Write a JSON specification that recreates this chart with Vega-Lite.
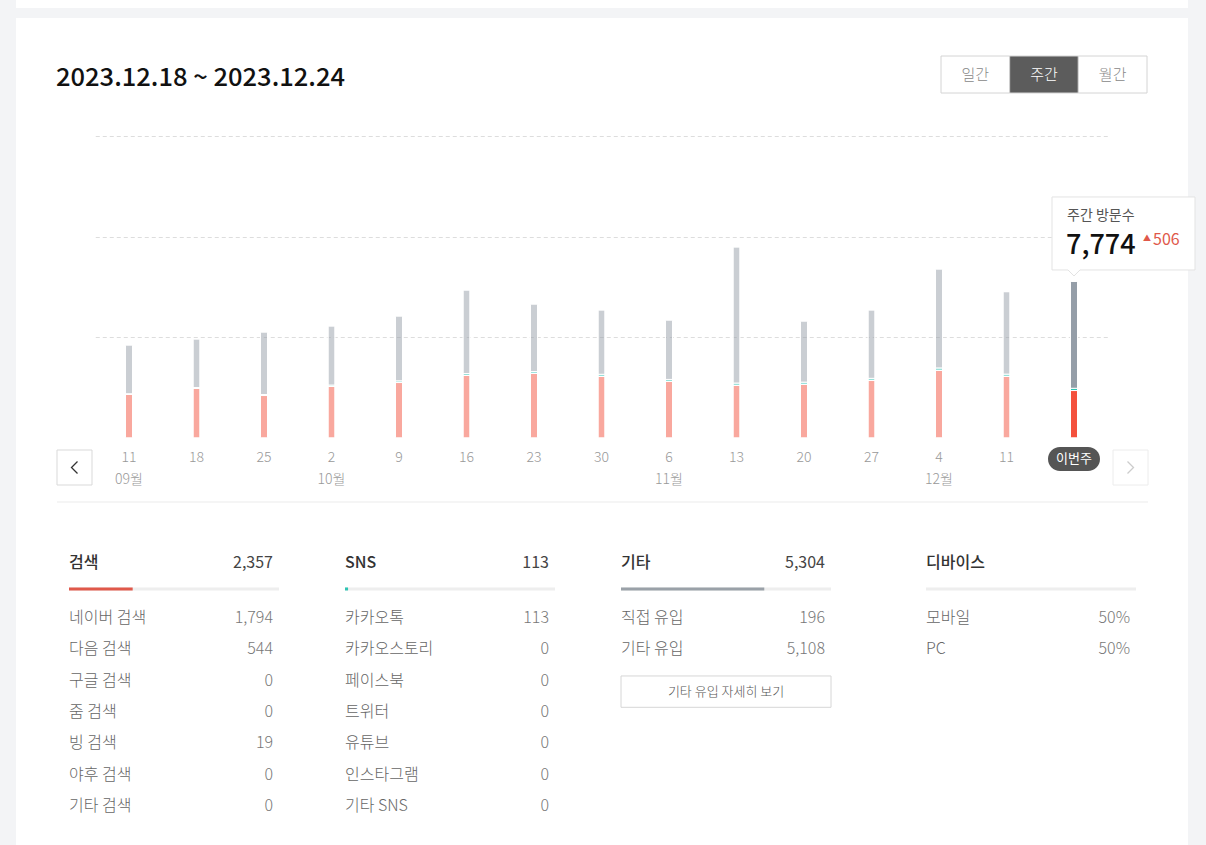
{
  "$schema": "https://vega.github.io/schema/vega-lite/v6.json",
  "width": 1172,
  "height": 827,
  "autosize": {"type": "none"},
  "padding": {"left": 16, "top": 18, "right": 18, "bottom": 0},
  "background": "#f3f4f6",
  "config": {
    "view": {"stroke": null, "fill": "#ffffff"},
    "font": "Noto Sans CJK KR",
    "text": {"font": "Noto Sans CJK KR"},
    "title": {"font": "Noto Sans CJK KR"}
  },
  "title": {
    "text": "2023.12.18 ~ 2023.12.24",
    "anchor": "start",
    "frame": "group",
    "orient": "top",
    "offset": -111,
    "baseline": "alphabetic",
    "dx": 40,
    "fontSize": 25.5,
    "fontWeight": 500,
    "color": "#111111"
  },
  "datasets": {
    "weeks": [
      {"date": "2023-09-11", "day": "11", "month": "09월", "search": 2160, "sns": 40, "other": 2420, "total": 4620, "current": false},
      {"date": "2023-09-18", "day": "18", "search": 2460, "sns": 45, "other": 2415, "total": 4920, "current": false},
      {"date": "2023-09-25", "day": "25", "search": 2110, "sns": 50, "other": 3105, "total": 5265, "current": false},
      {"date": "2023-10-02", "day": "2", "month": "10월", "search": 2560, "sns": 70, "other": 2935, "total": 5565, "current": false},
      {"date": "2023-10-09", "day": "9", "search": 2755, "sns": 85, "other": 3220, "total": 6060, "current": false},
      {"date": "2023-10-16", "day": "16", "search": 3105, "sns": 100, "other": 4145, "total": 7350, "current": false},
      {"date": "2023-10-23", "day": "23", "search": 3205, "sns": 95, "other": 3355, "total": 6655, "current": false},
      {"date": "2023-10-30", "day": "30", "search": 3055, "sns": 110, "other": 3195, "total": 6360, "current": false},
      {"date": "2023-11-06", "day": "6", "month": "11월", "search": 2805, "sns": 105, "other": 2950, "total": 5860, "current": false},
      {"date": "2023-11-13", "day": "13", "search": 2610, "sns": 120, "other": 6760, "total": 9490, "current": false},
      {"date": "2023-11-20", "day": "20", "search": 2660, "sns": 115, "other": 3035, "total": 5810, "current": false},
      {"date": "2023-11-27", "day": "27", "search": 2855, "sns": 110, "other": 3395, "total": 6360, "current": false},
      {"date": "2023-12-04", "day": "4", "month": "12월", "search": 3355, "sns": 125, "other": 4915, "total": 8395, "current": false},
      {"date": "2023-12-11", "day": "11", "search": 3055, "sns": 118, "other": 4095, "total": 7268, "current": false},
      {"date": "2023-12-18", "day": "18", "search": 2357, "sns": 113, "other": 5304, "total": 7774, "current": true, "change": 506}
    ],
    "sections": [
      {"group": "검색", "visits": 2357},
      {"group": "SNS", "visits": 113},
      {"group": "기타", "visits": 5304},
      {"group": "디바이스"}
    ],
    "items": [
      {"group": "검색", "item": "네이버 검색", "visits": 1794},
      {"group": "검색", "item": "다음 검색", "visits": 544},
      {"group": "검색", "item": "구글 검색", "visits": 0},
      {"group": "검색", "item": "줌 검색", "visits": 0},
      {"group": "검색", "item": "빙 검색", "visits": 19},
      {"group": "검색", "item": "야후 검색", "visits": 0},
      {"group": "검색", "item": "기타 검색", "visits": 0},
      {"group": "SNS", "item": "카카오톡", "visits": 113},
      {"group": "SNS", "item": "카카오스토리", "visits": 0},
      {"group": "SNS", "item": "페이스북", "visits": 0},
      {"group": "SNS", "item": "트위터", "visits": 0},
      {"group": "SNS", "item": "유튜브", "visits": 0},
      {"group": "SNS", "item": "인스타그램", "visits": 0},
      {"group": "SNS", "item": "기타 SNS", "visits": 0},
      {"group": "기타", "item": "직접 유입", "visits": 196},
      {"group": "기타", "item": "기타 유입", "visits": 5108}
    ],
    "devices": [
      {"device": "모바일", "share": 0.5},
      {"device": "PC", "share": 0.5}
    ],
    "nav": [{"dir": "prev"}, {"dir": "next"}],
    "tabs": [
      {"tab": "일간", "selected": false},
      {"tab": "주간", "selected": true},
      {"tab": "월간", "selected": false}
    ]
  },
  "resolve": {"scale": {"x": "independent", "y": "independent"}},
  "layer": [
    {
      "data": {"name": "nav"},
      "transform": [{"filter": "datum.dir === 'prev'"}],
      "mark": {"type": "rect", "fill": "#ffffff", "strokeWidth": 0},
      "encoding": {
        "x": {"datum": 0, "type": "quantitative", "scale": {"domain": [0, 1], "range": [0, 1172], "nice": false, "zero": false}, "axis": null},
        "x2": {"datum": 1},
        "y": {"datum": 0, "type": "quantitative", "scale": {"domain": [0, 1], "range": [-18, -10], "nice": false, "zero": false}, "axis": null},
        "y2": {"datum": 1}
      }
    },
    {
      "data": {"name": "nav"},
      "transform": [{"filter": "datum.dir === 'prev'"}],
      "mark": {"type": "point", "opacity": 0},
      "encoding": {
        "x": {"datum": 0, "type": "quantitative", "scale": {"domain": [0, 1], "range": [79.25, 1091.75], "nice": false, "zero": false}, "axis": null},
        "y": {"datum": 0, "type": "quantitative", "scale": {"domain": [0, 15000], "range": [420, 118], "nice": false, "zero": false}, "axis": {"values": [5000, 10000, 15000], "grid": true, "gridDash": [4, 3], "gridColor": "#dddddd", "gridWidth": 1, "domain": false, "ticks": false, "labels": false, "title": null}}
      }
    },
    {
      "data": {"name": "weeks"},
      "encoding": {
        "x": {"field": "date", "type": "nominal", "sort": null, "scale": {"type": "band", "domain": ["2023-09-11","2023-09-18","2023-09-25","2023-10-02","2023-10-09","2023-10-16","2023-10-23","2023-10-30","2023-11-06","2023-11-13","2023-11-20","2023-11-27","2023-12-04","2023-12-11","2023-12-18"], "range": [79.25, 1091.75], "paddingInner": 0, "paddingOuter": 0}, "axis": null}
      },
      "layer": [
        {
          "transform": [
            {"fold": ["search", "sns", "other"], "as": ["source", "visits"]},
            {"window": [{"op": "row_number", "as": "stackIdx"}], "groupby": ["date"]}
          ],
          "mark": {"type": "bar", "stroke": "#ffffff", "strokeWidth": 1, "cornerRadius": 1},
          "encoding": {
            "y": {"field": "visits", "type": "quantitative", "stack": "zero", "scale": {"domain": [0, 15000], "range": [420, 118], "nice": false, "zero": false}, "axis": null},
            "order": {"field": "stackIdx", "type": "quantitative", "sort": "ascending"},
            "color": {"field": "source", "type": "nominal", "scale": {"domain": ["search", "sns", "other"], "range": ["#f4513d", "#2ec4b3", "#959ea8"]}, "legend": null},
            "fillOpacity": {"condition": {"test": "datum.current", "value": 1}, "value": 0.5},
            "size": {"condition": {"test": "datum.current", "value": 9}, "value": 7}
          }
        },
        {
          "transform": [{"filter": "!datum.current"}],
          "mark": {"type": "text", "align": "center", "baseline": "middle", "dy": 20, "fontSize": 14, "fontWeight": 300, "color": "#999999"},
          "encoding": {
            "y": {"datum": 0, "type": "quantitative", "scale": {"domain": [0, 15000], "range": [420, 118], "nice": false, "zero": false}, "axis": null},
            "text": {"field": "day"}
          }
        },
        {
          "transform": [{"filter": "isValid(datum.month)"}],
          "mark": {"type": "text", "align": "center", "baseline": "middle", "dy": 42, "fontSize": 14, "fontWeight": 300, "color": "#999999"},
          "encoding": {
            "y": {"datum": 0, "type": "quantitative", "scale": {"domain": [0, 15000], "range": [420, 118], "nice": false, "zero": false}, "axis": null},
            "text": {"field": "month"}
          }
        },
        {
          "transform": [{"filter": "datum.current"}],
          "mark": {"type": "point", "shape": "M-0.5385,-0.4615H0.5385A0.4615,0.4615,0,0,1,0.5385,0.4615H-0.5385A0.4615,0.4615,0,0,1,-0.5385,-0.4615Z", "size": 2704, "filled": true, "color": "#555555", "opacity": 1, "yOffset": 21},
          "encoding": {
            "y": {"datum": 0, "type": "quantitative", "scale": {"domain": [0, 15000], "range": [420, 118], "nice": false, "zero": false}, "axis": null}
          }
        },
        {
          "transform": [{"filter": "datum.current"}],
          "mark": {"type": "text", "text": "이번주", "align": "center", "baseline": "middle", "dy": 21, "fontSize": 13, "color": "#ffffff"},
          "encoding": {
            "y": {"datum": 0, "type": "quantitative", "scale": {"domain": [0, 15000], "range": [420, 118], "nice": false, "zero": false}, "axis": null}
          }
        },
        {
          "transform": [{"filter": "datum.current"}],
          "mark": {"type": "point", "shape": "M-0.176,-0.676H0.968V-0.092H0.048L0,-0.044L-0.048,-0.092H-0.176Z", "size": 62500, "filled": true, "fill": "#ffffff", "stroke": "#e3e3e3", "strokeWidth": 1, "opacity": 1},
          "encoding": {
            "y": {"field": "total", "type": "quantitative", "scale": {"domain": [0, 15000], "range": [420, 118], "nice": false, "zero": false}, "axis": null}
          }
        },
        {
          "transform": [{"filter": "datum.current"}],
          "mark": {"type": "text", "text": "주간 방문수", "align": "left", "baseline": "middle", "dx": -7, "dy": -65.5, "fontSize": 14, "color": "#555555"},
          "encoding": {
            "y": {"field": "total", "type": "quantitative", "scale": {"domain": [0, 15000], "range": [420, 118], "nice": false, "zero": false}, "axis": null}
          }
        },
        {
          "transform": [{"filter": "datum.current"}],
          "mark": {"type": "text", "align": "left", "baseline": "alphabetic", "dx": -8, "dy": -27.5, "fontSize": 27, "fontWeight": 500, "color": "#111111"},
          "encoding": {
            "y": {"field": "total", "type": "quantitative", "scale": {"domain": [0, 15000], "range": [420, 118], "nice": false, "zero": false}, "axis": null},
            "text": {"field": "total", "type": "quantitative", "format": ","}
          }
        },
        {
          "transform": [{"filter": "datum.current"}],
          "mark": {"type": "text", "text": "▲", "align": "left", "baseline": "middle", "dx": 69, "dy": -42, "fontSize": 8, "color": "#e0584a"},
          "encoding": {
            "y": {"field": "total", "type": "quantitative", "scale": {"domain": [0, 15000], "range": [420, 118], "nice": false, "zero": false}, "axis": null}
          }
        },
        {
          "transform": [{"filter": "datum.current"}],
          "mark": {"type": "text", "align": "left", "baseline": "alphabetic", "dx": 79, "dy": -36.5, "fontSize": 16, "color": "#e0584a"},
          "encoding": {
            "y": {"field": "total", "type": "quantitative", "scale": {"domain": [0, 15000], "range": [420, 118], "nice": false, "zero": false}, "axis": null},
            "text": {"field": "change", "type": "quantitative"}
          }
        }
      ]
    },
    {
      "data": {"name": "nav"},
      "encoding": {
        "x": {"field": "dir", "type": "nominal", "sort": null, "scale": {"type": "point", "domain": ["prev", "next"], "range": [41, 1132], "padding": 0}, "axis": null},
        "y": {"datum": 0, "type": "quantitative", "scale": {"domain": [0, 1], "range": [449.5, 500], "nice": false, "zero": false}, "axis": null}
      },
      "layer": [
        {"mark": {"type": "line", "color": "#ebebeb", "strokeWidth": 1, "yOffset": 34.5}, "encoding": {}},
        {"transform": [{"filter": "datum.dir === 'prev'"}], "mark": {"type": "point", "shape": "square", "size": 1225, "filled": true, "fill": "#ffffff", "stroke": "#d9d9d9", "strokeWidth": 1, "opacity": 1, "xOffset": 17.5}, "encoding": {}},
        {"transform": [{"filter": "datum.dir === 'next'"}], "mark": {"type": "point", "shape": "square", "size": 1225, "filled": true, "fill": "#ffffff", "stroke": "#ececec", "strokeWidth": 1, "opacity": 1, "xOffset": -17.5}, "encoding": {}},
        {"transform": [{"filter": "datum.dir === 'prev'"}], "mark": {"type": "point", "shape": "M0.3,-0.6L-0.3,0L0.3,0.6", "size": 400, "filled": false, "stroke": "#333333", "strokeWidth": 1.3, "opacity": 1, "xOffset": 17.5}, "encoding": {}},
        {"transform": [{"filter": "datum.dir === 'next'"}], "mark": {"type": "point", "shape": "M-0.3,-0.6L0.3,0L-0.3,0.6", "size": 400, "filled": false, "stroke": "#cccccc", "strokeWidth": 1.3, "opacity": 1, "xOffset": -17.5}, "encoding": {}}
      ]
    },
    {
      "data": {"name": "tabs"},
      "encoding": {
        "x": {"field": "tab", "type": "nominal", "sort": null, "scale": {"type": "band", "domain": ["일간", "주간", "월간"], "range": [925, 1131], "paddingInner": 0, "paddingOuter": 0}, "axis": null}
      },
      "layer": [
        {
          "mark": {"type": "rect", "stroke": "#d4d4d4", "strokeWidth": 1},
          "encoding": {
            "y": {"datum": 0, "type": "quantitative", "scale": {"domain": [0, 1], "range": [38, 75], "nice": false, "zero": false}, "axis": null},
            "y2": {"datum": 1},
            "fill": {"condition": {"test": "datum.selected", "value": "#5c5c5c"}, "value": "#ffffff"}
          }
        },
        {
          "mark": {"type": "text", "align": "center", "baseline": "middle", "fontSize": 15, "fontWeight": 300},
          "encoding": {
            "y": {"datum": 0.5, "type": "quantitative", "scale": {"domain": [0, 1], "range": [38, 75], "nice": false, "zero": false}, "axis": null},
            "text": {"field": "tab"},
            "color": {"condition": {"test": "datum.selected", "value": "#ffffff"}, "value": "#888888"}
          }
        }
      ]
    },
    {
      "layer": [
        {
          "data": {"name": "sections"},
          "transform": [{"filter": "datum.group === '검색'"}],
          "encoding": {"y": {"datum": 0, "type": "quantitative", "scale": {"domain": [1, 7], "range": [600, 788], "nice": false, "zero": false}, "axis": null}},
          "layer": [
            {"mark": {"type": "text", "align": "left", "baseline": "middle", "dy": -24, "fontSize": 16, "fontWeight": 500, "color": "#333333"}, "encoding": {"x": {"datum": 0, "type": "quantitative", "scale": {"domain": [0, 7774], "range": [53, 263], "nice": false, "zero": false}, "axis": null}, "text": {"field": "group"}}},
            {"mark": {"type": "text", "align": "right", "baseline": "middle", "dx": 204, "dy": -24, "fontSize": 16, "color": "#444444"}, "encoding": {"x": {"datum": 0, "type": "quantitative", "scale": {"domain": [0, 7774], "range": [53, 263], "nice": false, "zero": false}, "axis": null}, "text": {"field": "visits", "type": "quantitative", "format": ","}}},
            {"mark": {"type": "rule", "color": "#eeeeee", "strokeWidth": 3, "yOffset": 2.3}, "encoding": {"x": {"datum": 0, "type": "quantitative", "scale": {"domain": [0, 7774], "range": [53, 263], "nice": false, "zero": false}, "axis": null}, "x2": {"datum": 7774}}},
            {"mark": {"type": "rule", "color": "#e0584a", "strokeWidth": 3, "yOffset": 2.3}, "encoding": {"x": {"field": "visits", "type": "quantitative", "stack": null, "scale": {"domain": [0, 7774], "range": [53, 263], "nice": false, "zero": false}, "axis": null}, "x2": {"datum": 0}}}
          ]
        },
        {
          "data": {"name": "items"},
          "transform": [{"filter": "datum.group === '검색'"}, {"window": [{"op": "row_number", "as": "rank"}]}],
          "encoding": {
            "x": {"datum": 0, "type": "quantitative", "scale": {"domain": [0, 7774], "range": [53, 263], "nice": false, "zero": false}, "axis": null},
            "y": {"field": "rank", "type": "quantitative", "scale": {"domain": [1, 7], "range": [600, 788], "nice": false, "zero": false}, "axis": null}
          },
          "layer": [
            {"mark": {"type": "text", "align": "left", "baseline": "middle", "fontSize": 16, "fontWeight": 300, "color": "#666666"}, "encoding": {"text": {"field": "item"}}},
            {"mark": {"type": "text", "align": "right", "baseline": "middle", "dx": 204, "fontSize": 16, "fontWeight": 300, "color": "#777777"}, "encoding": {"text": {"field": "visits", "type": "quantitative", "format": ","}}}
          ]
        }
      ]
    },
    {
      "layer": [
        {
          "data": {"name": "sections"},
          "transform": [{"filter": "datum.group === 'SNS'"}],
          "encoding": {"y": {"datum": 0, "type": "quantitative", "scale": {"domain": [1, 7], "range": [600, 788], "nice": false, "zero": false}, "axis": null}},
          "layer": [
            {"mark": {"type": "text", "align": "left", "baseline": "middle", "dy": -24, "fontSize": 16, "fontWeight": 500, "color": "#333333"}, "encoding": {"x": {"datum": 0, "type": "quantitative", "scale": {"domain": [0, 7774], "range": [329, 539], "nice": false, "zero": false}, "axis": null}, "text": {"field": "group"}}},
            {"mark": {"type": "text", "align": "right", "baseline": "middle", "dx": 204, "dy": -24, "fontSize": 16, "color": "#444444"}, "encoding": {"x": {"datum": 0, "type": "quantitative", "scale": {"domain": [0, 7774], "range": [329, 539], "nice": false, "zero": false}, "axis": null}, "text": {"field": "visits", "type": "quantitative", "format": ","}}},
            {"mark": {"type": "rule", "color": "#eeeeee", "strokeWidth": 3, "yOffset": 2.3}, "encoding": {"x": {"datum": 0, "type": "quantitative", "scale": {"domain": [0, 7774], "range": [329, 539], "nice": false, "zero": false}, "axis": null}, "x2": {"datum": 7774}}},
            {"mark": {"type": "rule", "color": "#2ec4b3", "strokeWidth": 3, "yOffset": 2.3}, "encoding": {"x": {"field": "visits", "type": "quantitative", "stack": null, "scale": {"domain": [0, 7774], "range": [329, 539], "nice": false, "zero": false}, "axis": null}, "x2": {"datum": 0}}}
          ]
        },
        {
          "data": {"name": "items"},
          "transform": [{"filter": "datum.group === 'SNS'"}, {"window": [{"op": "row_number", "as": "rank"}]}],
          "encoding": {
            "x": {"datum": 0, "type": "quantitative", "scale": {"domain": [0, 7774], "range": [329, 539], "nice": false, "zero": false}, "axis": null},
            "y": {"field": "rank", "type": "quantitative", "scale": {"domain": [1, 7], "range": [600, 788], "nice": false, "zero": false}, "axis": null}
          },
          "layer": [
            {"mark": {"type": "text", "align": "left", "baseline": "middle", "fontSize": 16, "fontWeight": 300, "color": "#666666"}, "encoding": {"text": {"field": "item"}}},
            {"mark": {"type": "text", "align": "right", "baseline": "middle", "dx": 204, "fontSize": 16, "fontWeight": 300, "color": "#777777"}, "encoding": {"text": {"field": "visits", "type": "quantitative", "format": ","}}}
          ]
        }
      ]
    },
    {
      "layer": [
        {
          "data": {"name": "sections"},
          "transform": [{"filter": "datum.group === '기타'"}],
          "encoding": {"y": {"datum": 0, "type": "quantitative", "scale": {"domain": [1, 7], "range": [600, 788], "nice": false, "zero": false}, "axis": null}},
          "layer": [
            {"mark": {"type": "text", "align": "left", "baseline": "middle", "dy": -24, "fontSize": 16, "fontWeight": 500, "color": "#333333"}, "encoding": {"x": {"datum": 0, "type": "quantitative", "scale": {"domain": [0, 7774], "range": [605, 815], "nice": false, "zero": false}, "axis": null}, "text": {"field": "group"}}},
            {"mark": {"type": "text", "align": "right", "baseline": "middle", "dx": 204, "dy": -24, "fontSize": 16, "color": "#444444"}, "encoding": {"x": {"datum": 0, "type": "quantitative", "scale": {"domain": [0, 7774], "range": [605, 815], "nice": false, "zero": false}, "axis": null}, "text": {"field": "visits", "type": "quantitative", "format": ","}}},
            {"mark": {"type": "rule", "color": "#eeeeee", "strokeWidth": 3, "yOffset": 2.3}, "encoding": {"x": {"datum": 0, "type": "quantitative", "scale": {"domain": [0, 7774], "range": [605, 815], "nice": false, "zero": false}, "axis": null}, "x2": {"datum": 7774}}},
            {"mark": {"type": "rule", "color": "#9aa1a8", "strokeWidth": 3, "yOffset": 2.3}, "encoding": {"x": {"field": "visits", "type": "quantitative", "stack": null, "scale": {"domain": [0, 7774], "range": [605, 815], "nice": false, "zero": false}, "axis": null}, "x2": {"datum": 0}}}
          ]
        },
        {
          "data": {"name": "sections"},
          "transform": [{"filter": "datum.group === '기타'"}],
          "encoding": {
            "x": {"datum": 0, "type": "quantitative", "scale": {"domain": [0, 7774], "range": [605, 815], "nice": false, "zero": false}, "axis": null},
            "y": {"datum": 3, "type": "quantitative", "scale": {"domain": [1, 7], "range": [600, 788], "nice": false, "zero": false}, "axis": null}
          },
          "layer": [
            {"mark": {"type": "rect", "fill": "#ffffff", "stroke": "#d6d6d6", "strokeWidth": 1, "yOffset": -4.7, "y2Offset": -4.7}, "encoding": {"x2": {"datum": 7774}, "y2": {"datum": 4}}},
            {"mark": {"type": "text", "text": "기타 유입 자세히 보기", "align": "center", "baseline": "middle", "dx": 105, "dy": 11, "fontSize": 13, "fontWeight": 300, "color": "#555555"}, "encoding": {}}
          ]
        },
        {
          "data": {"name": "items"},
          "transform": [{"filter": "datum.group === '기타'"}, {"window": [{"op": "row_number", "as": "rank"}]}],
          "encoding": {
            "x": {"datum": 0, "type": "quantitative", "scale": {"domain": [0, 7774], "range": [605, 815], "nice": false, "zero": false}, "axis": null},
            "y": {"field": "rank", "type": "quantitative", "scale": {"domain": [1, 7], "range": [600, 788], "nice": false, "zero": false}, "axis": null}
          },
          "layer": [
            {"mark": {"type": "text", "align": "left", "baseline": "middle", "fontSize": 16, "fontWeight": 300, "color": "#666666"}, "encoding": {"text": {"field": "item"}}},
            {"mark": {"type": "text", "align": "right", "baseline": "middle", "dx": 204, "fontSize": 16, "fontWeight": 300, "color": "#777777"}, "encoding": {"text": {"field": "visits", "type": "quantitative", "format": ","}}}
          ]
        }
      ]
    },
    {
      "layer": [
        {
          "data": {"name": "sections"},
          "transform": [{"filter": "datum.group === '디바이스'"}],
          "encoding": {
            "x": {"datum": 0, "type": "quantitative", "scale": {"domain": [0, 7774], "range": [910, 1120], "nice": false, "zero": false}, "axis": null},
            "y": {"datum": 0, "type": "quantitative", "scale": {"domain": [1, 7], "range": [600, 788], "nice": false, "zero": false}, "axis": null}
          },
          "layer": [
            {"mark": {"type": "text", "align": "left", "baseline": "middle", "dy": -24, "fontSize": 16, "fontWeight": 500, "color": "#333333"}, "encoding": {"text": {"field": "group"}}},
            {"mark": {"type": "rule", "color": "#eeeeee", "strokeWidth": 3, "yOffset": 2.3}, "encoding": {"x2": {"datum": 7774}}}
          ]
        },
        {
          "data": {"name": "devices"},
          "transform": [{"window": [{"op": "row_number", "as": "rank"}]}],
          "encoding": {
            "x": {"datum": 0, "type": "quantitative", "scale": {"domain": [0, 7774], "range": [910, 1120], "nice": false, "zero": false}, "axis": null},
            "y": {"field": "rank", "type": "quantitative", "scale": {"domain": [1, 7], "range": [600, 788], "nice": false, "zero": false}, "axis": null}
          },
          "layer": [
            {"mark": {"type": "text", "align": "left", "baseline": "middle", "fontSize": 16, "fontWeight": 300, "color": "#666666"}, "encoding": {"text": {"field": "device"}}},
            {"mark": {"type": "text", "align": "right", "baseline": "middle", "dx": 204, "fontSize": 16, "fontWeight": 300, "color": "#777777"}, "encoding": {"text": {"field": "share", "type": "quantitative", "format": ".0%"}}}
          ]
        }
      ]
    }
  ]
}
